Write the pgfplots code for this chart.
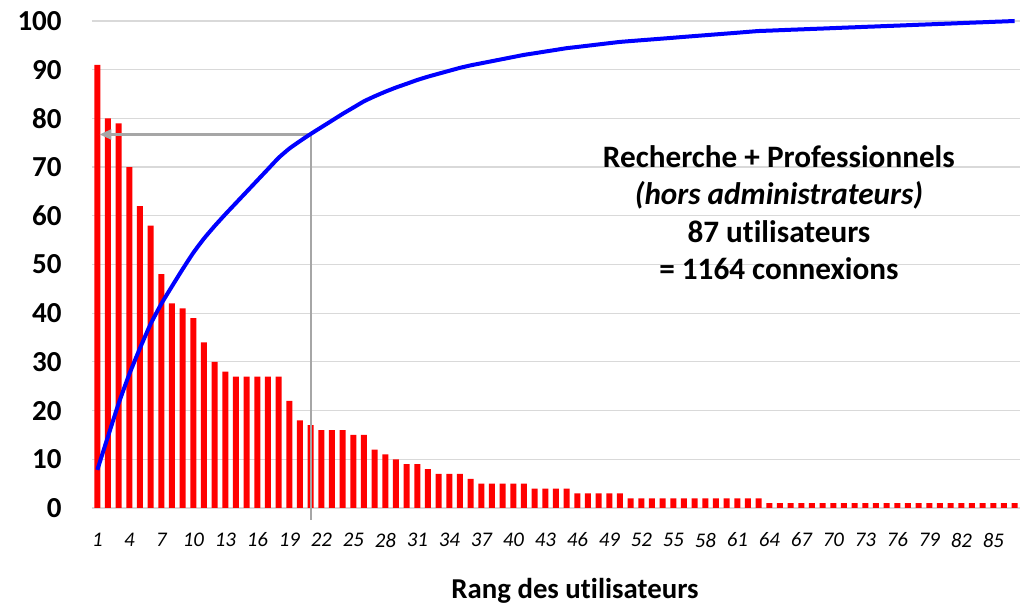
\documentclass[border=0pt]{standalone}
\usepackage{fontspec}
\setmainfont{Carlito}[Ligatures={NoCommon}]
\usepackage{pgfplots}
\pgfplotsset{compat=1.18}
\usetikzlibrary{arrows.meta}
\definecolor{gridgray}{RGB}{217,217,217}
\definecolor{arrgray}{RGB}{166,166,166}
\begin{document}
\begin{tikzpicture}
\useasboundingbox (-46pt,-48pt) rectangle (466.5pt,254pt);
\begin{axis}[
  scale only axis,
  width=464pt, height=243.5pt,
  xmin=0.5, xmax=87.5,
  ymin=0, ymax=100,
  clip=false,
  axis line style={draw=none},
  major tick length=0pt,
  ytick={0,10,...,100},
  xtick={1,4,...,85},
  ymajorgrids,
  grid style={gridgray, line width=0.6pt},
  /pgf/number format/assume math mode=true,
  yticklabel style={font=\fontsize{14.5}{17}\selectfont\bfseries, anchor=east, inner sep=0pt, xshift=-15pt},
  xticklabel style={font=\fontsize{10.4}{12}\selectfont\itshape, anchor=center, inner sep=0pt, yshift=-16pt},
  xlabel={Rang des utilisateurs},
  xlabel style={font=\fontsize{14.4}{17}\selectfont\bfseries, at={(axis description cs:0.5205,0)}, anchor=base, yshift=-45.5pt},
]
\addplot[ybar, bar width=3pt, fill=red, draw=none, bar shift=0pt] coordinates {
(1,91) (2,80) (3,79) (4,70) (5,62) (6,58) (7,48) (8,42) (9,41) (10,39)
(11,34) (12,30) (13,28) (14,27) (15,27) (16,27) (17,27) (18,27) (19,22) (20,18)
(21,17) (22,16) (23,16) (24,16) (25,15) (26,15) (27,12) (28,11) (29,10) (30,9)
(31,9) (32,8) (33,7) (34,7) (35,7) (36,6) (37,5) (38,5) (39,5) (40,5)
(41,5) (42,4) (43,4) (44,4) (45,4) (46,3) (47,3) (48,3) (49,3) (50,3)
(51,2) (52,2) (53,2) (54,2) (55,2) (56,2) (57,2) (58,2) (59,2) (60,2)
(61,2) (62,2) (63,2) (64,1) (65,1) (66,1) (67,1) (68,1) (69,1) (70,1)
(71,1) (72,1) (73,1) (74,1) (75,1) (76,1) (77,1) (78,1) (79,1) (80,1)
(81,1) (82,1) (83,1) (84,1) (85,1) (86,1) (87,1)
};
\addplot[arrgray, line width=1.2pt, -{Triangle[length=6pt,width=5pt]}] coordinates {(21.05,-2.5) (21.05,76.7) (1.2,76.7)};
\addplot[blue, line width=2pt, smooth, tension=0.3] coordinates {
(1,7.82) (2,14.69) (3,21.48) (4,27.49) (5,32.82) (6,37.80) (7,41.92) (8,45.53) (9,49.05) (10,52.41)
(11,55.33) (12,57.90) (13,60.31) (14,62.63) (15,64.95) (16,67.27) (17,69.59) (18,71.91) (19,73.80) (20,75.34)
(21,76.80) (22,78.18) (23,79.55) (24,80.93) (25,82.22) (26,83.51) (27,84.54) (28,85.48) (29,86.34) (30,87.11)
(31,87.89) (32,88.57) (33,89.18) (34,89.78) (35,90.38) (36,90.89) (37,91.32) (38,91.75) (39,92.18) (40,92.61)
(41,93.04) (42,93.38) (43,93.73) (44,94.07) (45,94.42) (46,94.67) (47,94.93) (48,95.19) (49,95.45) (50,95.70)
(51,95.88) (52,96.05) (53,96.22) (54,96.39) (55,96.56) (56,96.74) (57,96.91) (58,97.08) (59,97.25) (60,97.42)
(61,97.59) (62,97.77) (63,97.94) (64,98.02) (65,98.11) (66,98.20) (67,98.28) (68,98.37) (69,98.45) (70,98.54)
(71,98.63) (72,98.71) (73,98.80) (74,98.88) (75,98.97) (76,99.05) (77,99.14) (78,99.23) (79,99.31) (80,99.40)
(81,99.48) (82,99.57) (83,99.66) (84,99.74) (85,99.83) (86,99.91) (87,100)
};
\node[anchor=base, font=\fontsize{15.6}{18}\selectfont\bfseries, inner sep=0pt] at (axis cs:64.9,70.0) {Recherche + Professionnels};
\node[anchor=base, font=\fontsize{15.6}{18}\selectfont\bfseries\itshape, inner sep=0pt] at (axis cs:64.9,62.4) {(hors administrateurs)};
\node[anchor=base, font=\fontsize{15.6}{18}\selectfont\bfseries, inner sep=0pt] at (axis cs:64.9,54.6) {87 utilisateurs};
\node[anchor=base, font=\fontsize{15.6}{18}\selectfont\bfseries, inner sep=0pt] at (axis cs:64.9,47.0) {= 1164 connexions};
\end{axis}
\end{tikzpicture}
\end{document}
